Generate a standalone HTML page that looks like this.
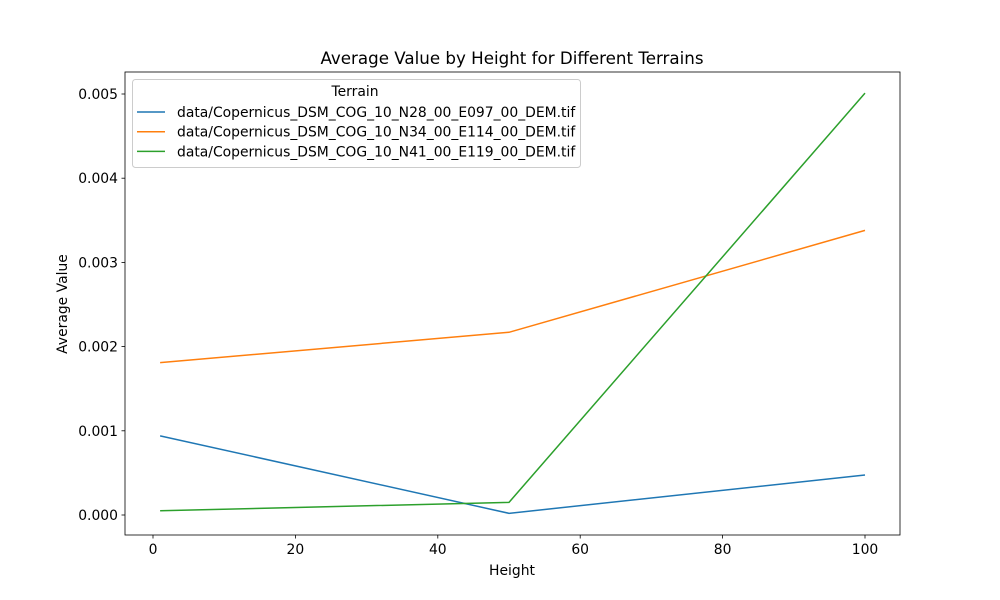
<!DOCTYPE html>
<html><head><meta charset="utf-8"><style>
body{margin:0;background:#fff;}
svg{display:block;font-family:"DejaVu Sans","Liberation Sans",sans-serif;}
</style></head><body>
<svg id="chart" width="1000" height="600"></svg>
<script>
const categories = [1, 50, 100];
const seriesNames = ["data/Copernicus_DSM_COG_10_N28_00_E097_00_DEM.tif","data/Copernicus_DSM_COG_10_N34_00_E114_00_DEM.tif","data/Copernicus_DSM_COG_10_N41_00_E119_00_DEM.tif"];
const blueValues = [0.00094, 0.00002, 0.000475];
const orangeValues = [0.00181, 0.00217, 0.00338];
const greenValues = [0.00005, 0.00015, 0.00501];
const xTicks = [0, 20, 40, 60, 80, 100];
const yTicks = [0, 0.001, 0.002, 0.003, 0.004, 0.005];
const colors = ["#1f77b4","#ff7f0e","#2ca02c"];

const NS="http://www.w3.org/2000/svg";
const svg=document.getElementById('chart');
const L=125,R=900,T=72,B=535;
const xs=v=>153+v*7.12;
const ys=v=>515-v*84200;
function mk(tag,attrs,parent){const e=document.createElementNS(NS,tag);for(const k in attrs)e.setAttribute(k,attrs[k]);(parent||svg).appendChild(e);return e;}

[blueValues,orangeValues,greenValues].forEach((vals,i)=>{
  const p=mk('polyline',{points:vals.map((v,j)=>xs(categories[j])+','+ys(v)).join(' '),fill:'none',stroke:colors[i],'stroke-width':1.5});
  
  
});
const fr=mk('rect',{x:L,y:T,width:R-L,height:B-T,fill:'none',stroke:'#000','stroke-width':0.8});


xTicks.forEach(t=>{
  const x=xs(t);
  mk('line',{x1:x,x2:x,y1:B,y2:B+3.5,stroke:'#000','stroke-width':0.8});
  const tx=mk('text',{x:x,y:B+19,'text-anchor':'middle','font-size':13.9});
  tx.textContent=t;
  
  
});
yTicks.forEach(t=>{
  const y=ys(t);
  mk('line',{x1:L,x2:L-3.5,y1:y,y2:y,stroke:'#000','stroke-width':0.8});
  const tx=mk('text',{x:L-7,y:y+5,'text-anchor':'end','font-size':13.9});
  tx.textContent=t.toFixed(3);
  
  
});
const xt=mk('text',{x:512,y:575,'text-anchor':'middle','font-size':13.9});xt.textContent='Height';


const yt=mk('text',{x:67,y:304,'text-anchor':'middle','font-size':13.9,transform:'rotate(-90 67 304)'});yt.textContent='Average Value';


const ti=mk('text',{x:512,y:64,'text-anchor':'middle','font-size':16.7});ti.textContent='Average Value by Height for Different Terrains';


const lg=mk('g',{});


mk('rect',{x:132.5,y:79.5,width:448,height:88,rx:3,fill:'#fff','fill-opacity':0.8,stroke:'#ccc','stroke-width':1},lg);
const lt=mk('text',{x:355,y:96,'text-anchor':'middle','font-size':13.9},lg);lt.textContent='Terrain';
seriesNames.forEach((n,i)=>{
  const y=112+i*19.7;
  const e=mk('g',{},lg);
  
  
  mk('line',{x1:137,x2:165,y1:y,y2:y,stroke:colors[i],'stroke-width':1.5},e);
  const t=mk('text',{x:177,y:y+5,'font-size':13.9},e);t.textContent=n;
});
</script>
</body></html>
